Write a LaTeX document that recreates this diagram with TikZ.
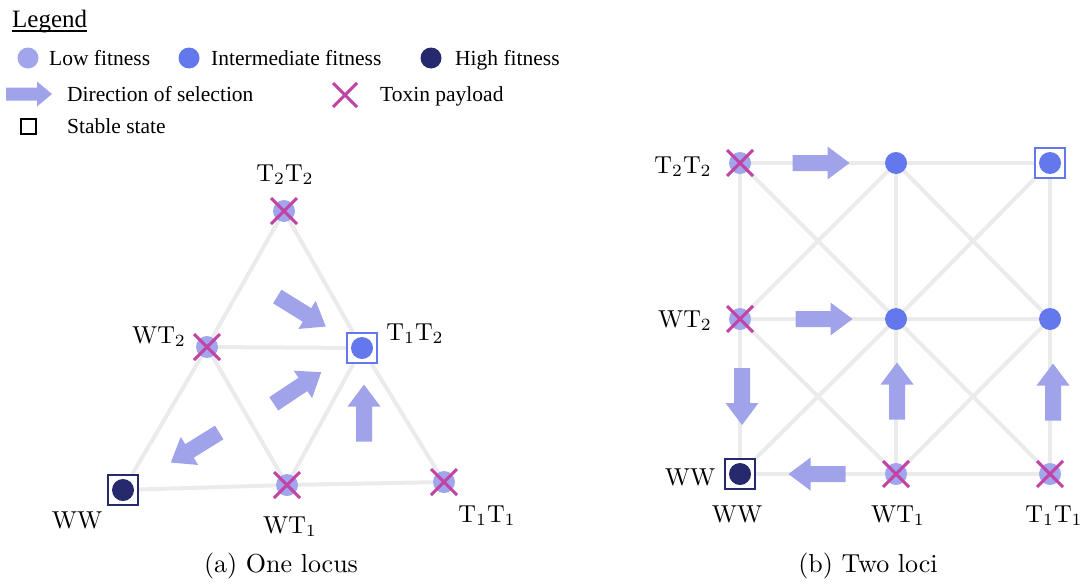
\documentclass[tikz,border=0pt]{standalone}
\usepackage{graphicx}
\usepackage{fontspec}
\newfontfamily\legfont{Liberation Serif}
\usetikzlibrary{shapes.misc,backgrounds}
\definecolor{edgegrey}{HTML}{EBEBEB}
\definecolor{lowfit}{HTML}{A1A5EB}
\definecolor{midfit}{HTML}{6278EC}
\definecolor{highfit}{HTML}{27296E}
\definecolor{toxin}{HTML}{C243A6}
\definecolor{arrowfill}{HTML}{A0A3EA}
\tikzset{
  edge/.style={draw=edgegrey, line width=4pt},
  lowdot/.style={circle, fill=lowfit, minimum size=22pt, inner sep=0pt},
  middot/.style={circle, fill=midfit, minimum size=22pt, inner sep=0pt},
  highdot/.style={circle, fill=highfit, minimum size=22pt, inner sep=0pt},
  stablebox/.style={rectangle, draw=#1, line width=2pt, fill=white, minimum size=30pt, inner sep=0pt},
  toxinmark/.style={cross out, draw=toxin, line width=3pt, minimum size=23pt, inner sep=0pt},
  lab/.style={anchor=base, inner sep=0pt},
  legtext/.style={font=\legfont\fontsize{21.5}{25}\selectfont, anchor=base west, inner sep=0pt},
  pics/selarrow/.style={code={
    \fill[arrowfill] (-28.5pt,-8pt) -- (6.5pt,-8pt) -- (6.5pt,-16.5pt) -- (28.5pt,0pt)
      -- (6.5pt,16.5pt) -- (6.5pt,8pt) -- (-28.5pt,8pt) -- cycle;}},
  pics/legarrow/.style={code={
    \fill[arrowfill] (-23pt,-6.5pt) -- (8pt,-6.5pt) -- (8pt,-12.5pt) -- (23pt,0pt)
      -- (8pt,12.5pt) -- (8pt,6.5pt) -- (-23pt,6.5pt) -- cycle;}}
}
\newcommand{\lbl}[1]{\scalebox{2.45}{#1}}
\newcommand{\capt}[1]{\scalebox{2.6}{#1}}
\begin{document}
\begin{tikzpicture}[x=1pt,y=-1pt]
\useasboundingbox (0,0) rectangle (1083,584);

% ---------------- Legend ----------------
\node[legtext, font=\legfont\fontsize{25}{30}\selectfont] (legtitle) at (12,27) {Legend};
\draw[line width=1.3pt] ([yshift=-4pt]legtitle.base west) -- ([yshift=-4pt]legtitle.base east);
\node[lowdot, minimum size=21pt] (leglow) at (28,58) {};
\node[legtext] (leglowt) at (49,65) {Low fitness};
\node[middot, minimum size=21pt] (legmid) at (189,58) {};
\node[legtext] (legmidt) at (211,65) {Intermediate fitness};
\node[highdot, minimum size=21pt] (leghigh) at (431,58) {};
\node[legtext] (leghight) at (455,65) {High fitness};
\pic at (29,94) {legarrow};
\node[legtext] (legarrt) at (67,101) {Direction of selection};
\node[toxinmark, minimum size=21pt] (legtox) at (345,95) {};
\node[legtext] (legtoxt) at (380,101) {Toxin payload};
\node[draw=black, line width=2pt, minimum size=15pt, inner sep=0pt] (legbox) at (28,126) {};
\node[legtext] (legboxt) at (67,133) {Stable state};

% ---------------- (a) One locus ----------------
\node[stablebox=highfit] (aWW) at (123,490) {};
\node[highdot] at (aWW) {};
\node[lowdot] (aWT1) at (287,485) {};
\node[lowdot] (aT1T1) at (444,482) {};
\node[lowdot] (aWT2) at (207,347) {};
\node[stablebox=midfit] (aT1T2) at (362,348) {};
\node[middot] at (aT1T2) {};
\node[lowdot] (aT2T2) at (284,211) {};
\begin{scope}[on background layer]
  \draw[edge] (aWW) -- (aWT1) -- (aT1T1);
  \draw[edge] (aWW) -- (aWT2) -- (aT2T2);
  \draw[edge] (aT2T2) -- (aT1T2) -- (aT1T1);
  \draw[edge] (aWT2) -- (aT1T2);
  \draw[edge] (aWT2) -- (aWT1);
  \draw[edge] (aWT1) -- (aT1T2);
\end{scope}
\node[toxinmark] at (aWT1) {};
\node[toxinmark] at (aT1T1) {};
\node[toxinmark] at (aWT2) {};
\node[toxinmark] at (aT2T2) {};
\pic[rotate=-31.7] at (301.5,311.5) {selarrow};
\pic[rotate=33.7] at (297.5,388) {selarrow};
\pic[rotate=-148.2] at (195,447.5) {selarrow};
\pic[rotate=90] at (364,413) {selarrow};
\node[lab] (laT2T2) at (285,181) {\lbl{T$_2$T$_2$}};
\node[lab] (laWT2) at (159,343) {\lbl{WT$_2$}};
\node[lab] (laT1T2) at (415,340) {\lbl{T$_1$T$_2$}};
\node[lab] (laWW) at (77,528) {\lbl{WW}};
\node[lab] (laWT1) at (290,533) {\lbl{WT$_1$}};
\node[lab] (laT1T1) at (487,522) {\lbl{T$_1$T$_1$}};
\node[lab] (capa) at (281,572) {\capt{(a) One locus}};

% ---------------- (b) Two loci ----------------
\node[stablebox=highfit] (bWW) at (740,474) {};
\node[highdot] at (bWW) {};
\node[lowdot] (bWT1) at (896,474) {};
\node[lowdot] (bT1T1) at (1050,474) {};
\node[lowdot] (bWT2) at (740,319) {};
\node[middot] (bM) at (896,319) {};
\node[middot] (bR) at (1050,319) {};
\node[lowdot] (bT2T2) at (740,163) {};
\node[middot] (bTM) at (896,163) {};
\node[stablebox=midfit] (bTR) at (1050,163) {};
\node[middot] at (bTR) {};
\begin{scope}[on background layer]
  \draw[edge] (bT2T2) -- (bTM) -- (bTR);
  \draw[edge] (bWT2) -- (bM) -- (bR);
  \draw[edge] (bWW) -- (bWT1) -- (bT1T1);
  \draw[edge] (bT2T2) -- (bWT2) -- (bWW);
  \draw[edge] (bTM) -- (bM) -- (bWT1);
  \draw[edge] (bTR) -- (bR) -- (bT1T1);
  \draw[edge] (bT2T2) -- (bM) -- (bT1T1);
  \draw[edge] (bTM) -- (bWT2);
  \draw[edge] (bTM) -- (bR);
  \draw[edge] (bTR) -- (bM) -- (bWW);
  \draw[edge] (bWT2) -- (bWT1);
  \draw[edge] (bR) -- (bWT1);
\end{scope}
\node[toxinmark] at (bWT1) {};
\node[toxinmark] at (bT1T1) {};
\node[toxinmark] at (bWT2) {};
\node[toxinmark] at (bT2T2) {};
\pic at (821,163) {selarrow};
\pic at (824,319) {selarrow};
\pic[rotate=-90] at (742,396.5) {selarrow};
\pic[rotate=180] at (817,474) {selarrow};
\pic[rotate=90] at (897,391) {selarrow};
\pic[rotate=90] at (1053,392) {selarrow};
\node[lab] (lbT2T2) at (683,173) {\lbl{T$_2$T$_2$}};
\node[lab] (lbWT2) at (685,327) {\lbl{WT$_2$}};
\node[lab] (lbWWl) at (690,485) {\lbl{WW}};
\node[lab] (lbWW) at (737,522) {\lbl{WW}};
\node[lab] (lbWT1) at (898,522) {\lbl{WT$_1$}};
\node[lab] (lbT1T1) at (1054,522) {\lbl{T$_1$T$_1$}};
\node[lab] (capb) at (868,572) {\capt{(b) Two loci}};
\end{tikzpicture}
\end{document}
